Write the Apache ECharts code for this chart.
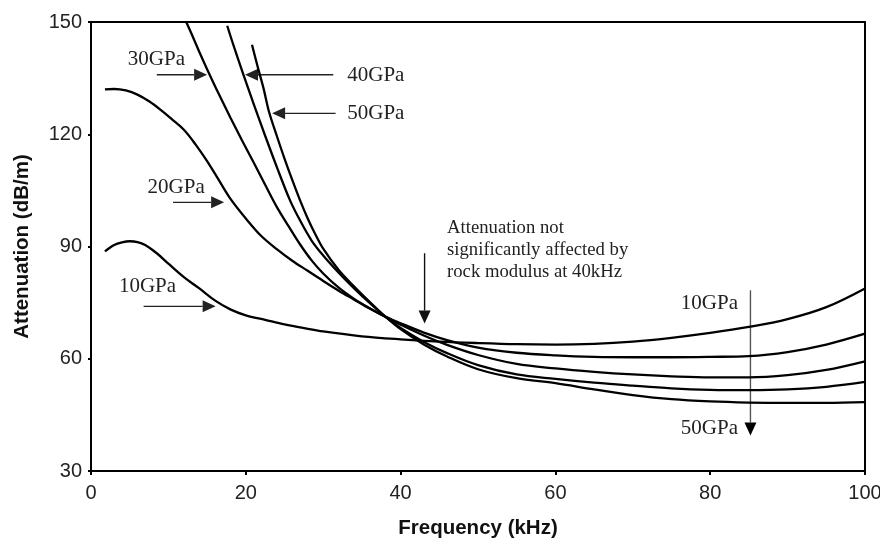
<!DOCTYPE html>
<html>
<head>
<meta charset="utf-8">
<script src="https://cdn.jsdelivr.net/npm/echarts@6/dist/echarts.min.js"></script>
<style>
  html, body { margin: 0; padding: 0; background: #fff; }
  #chart { width: 880px; height: 539px; }
</style>
</head>
<body>
<div id="chart"></div>
<script>
// Attenuation (dB/m) against frequency (kHz) for five rock moduli
const freq10 = [1.8, 3, 4, 5, 6, 7, 8.5, 10, 12, 14, 16, 18, 20, 22.5, 25, 27.5, 30, 35, 40, 45, 50, 55, 60, 65, 70, 75, 80, 85, 90, 95, 100];
const att10  = [88.7, 90.4, 91.1, 91.4, 91.2, 90.4, 88.2, 85.4, 81.8, 78.8, 75.6, 73.2, 71.6, 70.4, 69.2, 68.2, 67.3, 66.0, 65.2, 64.6, 64.2, 63.9, 63.8, 64.0, 64.6, 65.6, 66.9, 68.5, 70.6, 73.8, 78.8];

const freq20 = [1.8, 3, 4.5, 6, 7.5, 9, 10.5, 12, 13.5, 15, 16.5, 18, 20, 22, 24, 26, 28, 30, 32, 34, 36, 38, 40, 43, 46, 50, 55, 60, 65, 70, 75, 80, 85, 90, 95, 100];
const att20  = [132.0, 132.1, 131.7, 130.6, 128.8, 126.5, 123.9, 121.2, 117.3, 112.8, 107.8, 102.8, 97.5, 92.8, 89.3, 86.2, 83.5, 80.8, 78.2, 75.8, 73.4, 71.3, 69.5, 67.0, 65.0, 63.0, 61.6, 60.9, 60.5, 60.4, 60.4, 60.5, 60.7, 61.8, 63.8, 66.7];

const freq30 = [12.3, 13, 14, 15, 16.5, 18, 19.5, 21, 22.5, 24, 25.5, 27, 28.5, 30, 32, 34, 36, 38, 40, 43, 46, 50, 55, 60, 65, 70, 75, 80, 85, 90, 95, 100];
const att30  = [150.0, 146.8, 142.0, 137.4, 130.8, 124.5, 118.4, 112.5, 106.5, 100.6, 95.5, 90.6, 86.3, 82.8, 79.0, 76.0, 73.5, 71.2, 69.1, 66.2, 63.7, 61.0, 58.6, 57.4, 56.5, 55.8, 55.3, 55.0, 55.0, 55.6, 57.0, 59.3];

const freq40 = [17.6, 18.5, 19.7, 21, 22.5, 24, 25.7, 27, 28.5, 30, 32, 34, 36, 38, 40, 43, 46, 50, 55, 60, 65, 70, 75, 80, 85, 90, 95, 100];
const att40  = [149.0, 143.2, 135.9, 128.2, 119.6, 111.3, 102.4, 97.0, 91.6, 87.6, 83.0, 78.8, 74.9, 71.3, 68.2, 64.5, 61.5, 58.3, 55.8, 54.6, 53.6, 52.8, 52.1, 51.7, 51.6, 51.8, 52.5, 53.8];

const freq50 = [20.8, 21.5, 22.3, 23, 24, 25, 26, 27, 28, 29, 30, 32, 34, 36, 38, 40, 43, 46, 50, 55, 60, 65, 70, 75, 80, 85, 90, 95, 100];
const att50  = [143.9, 138.3, 132.2, 126.0, 119.6, 113.5, 107.8, 102.4, 97.5, 93.2, 89.4, 83.7, 79.3, 75.2, 71.3, 67.9, 63.8, 60.6, 57.2, 54.8, 53.5, 51.8, 50.3, 49.2, 48.6, 48.3, 48.2, 48.2, 48.4];

// Axis ranges and tick spacing
const xMin = 0, xMax = 100, xStep = 20;
const yMin = 30, yMax = 150, yStep = 30;

// Modulus labels beside the curves (data units, text centre)
const labelText = ['30GPa', '40GPa', '50GPa', '20GPa', '10GPa', '10GPa', '50GPa'];
const labelX    = [8.45, 36.8, 36.8, 11.0, 7.3, 79.9, 79.9];
const labelY    = [139.9, 135.6, 125.6, 105.8, 79.2, 74.8, 41.3];

// Pointer arrows: start and tip (data units)
const arrowFromX = [8.5, 31.3, 31.6, 10.6, 6.8, 43.1, 85.2];
const arrowFromY = [135.9, 135.9, 125.6, 101.8, 74.0, 88.2, 78.3];
const arrowToX   = [15.0, 19.9, 23.4, 17.2, 16.1, 43.1, 85.2];
const arrowToY   = [135.9, 135.9, 125.6, 101.8, 74.0, 69.4, 39.5];
const arrowColor = ['#222', '#222', '#222', '#222', '#222', '#111', '#555'];

const noteText = 'Attenuation not\nsignificantly affected by\nrock modulus at 40kHz';
const noteX = 46.0, noteY = 97.8;

const chart = echarts.init(document.getElementById('chart'), null, { renderer: 'canvas' });

function pairs(xs, ys) { return xs.map((x, i) => [x, ys[i]]); }

const curves = [
  ['10GPa', freq10, att10],
  ['20GPa', freq20, att20],
  ['30GPa', freq30, att30],
  ['40GPa', freq40, att40],
  ['50GPa', freq50, att50]
];

const tickFont = { fontFamily: 'Liberation Sans, Arial, sans-serif', fontSize: 20, color: '#222' };
const titleFont = { fontFamily: 'Liberation Sans, Arial, sans-serif', fontSize: 20.5, fontWeight: 'bold', color: '#111' };

chart.setOption({
  animation: false,
  backgroundColor: '#fff',
  grid: {
    left: 91, right: 15, top: 22, bottom: 68,
    outerBoundsMode: 'none', containLabel: false,
    show: true, borderColor: '#000', borderWidth: 2, backgroundColor: 'transparent'
  },
  xAxis: {
    type: 'value', min: xMin, max: xMax, interval: xStep,
    name: 'Frequency (kHz)', nameLocation: 'middle', nameGap: 47,
    nameTextStyle: titleFont,
    axisLine: { show: true, lineStyle: { color: '#000', width: 2 } },
    axisTick: { show: true, length: 4, lineStyle: { color: '#000', width: 2 } },
    axisLabel: Object.assign({ margin: 12 }, tickFont),
    splitLine: { show: false }
  },
  yAxis: {
    type: 'value', min: yMin, max: yMax, interval: yStep,
    name: 'Attenuation (dB/m)', nameLocation: 'middle', nameGap: 58,
    nameTextStyle: titleFont,
    axisLine: { show: true, lineStyle: { color: '#000', width: 2 } },
    axisTick: { show: true, length: 3, lineStyle: { color: '#000', width: 2 } },
    axisLabel: Object.assign({ margin: 9 }, tickFont),
    splitLine: { show: false }
  },
  series: curves.map(([name, xs, ys]) => ({
    name, type: 'line', data: pairs(xs, ys), smooth: 0.35,
    showSymbol: false, clip: true,
    lineStyle: { color: '#000', width: 2.3 }
  }))
});

// Annotations placed through the chart's own coordinate conversion
function toPx(x, y) { return chart.convertToPixel({ gridIndex: 0 }, [x, y]); }

const graphics = [];
labelText.forEach((t, i) => {
  const p = toPx(labelX[i], labelY[i]);
  graphics.push({
    type: 'text', x: p[0], y: p[1], silent: true,
    style: { text: t, fill: '#222', font: '21px "Liberation Serif", "Times New Roman", serif', align: 'center', verticalAlign: 'middle' }
  });
});

arrowFromX.forEach((_, i) => {
  const a = toPx(arrowFromX[i], arrowFromY[i]);
  const b = toPx(arrowToX[i], arrowToY[i]);
  const dx = b[0] - a[0], dy = b[1] - a[1];
  const len = Math.hypot(dx, dy);
  const ux = dx / len, uy = dy / len;
  const headLen = 13, halfW = 6;
  const base = [b[0] - ux * headLen, b[1] - uy * headLen];
  graphics.push({
    type: 'line', silent: true,
    shape: { x1: a[0], y1: a[1], x2: base[0], y2: base[1] },
    style: { stroke: arrowColor[i], lineWidth: i >= 5 ? 1.4 : 1.3 }
  });
  graphics.push({
    type: 'polygon', silent: true,
    shape: { points: [b, [base[0] - uy * halfW, base[1] + ux * halfW], [base[0] + uy * halfW, base[1] - ux * halfW]] },
    style: { fill: i === 6 ? '#000' : arrowColor[i] }
  });
});

const np = toPx(noteX, noteY);
graphics.push({
  type: 'text', x: np[0], y: np[1], silent: true,
  style: { text: noteText, fill: '#222', font: '18.7px "Liberation Serif", "Times New Roman", serif', lineHeight: 22, align: 'left', verticalAlign: 'top' }
});

chart.setOption({ graphic: graphics });
</script>
</body>
</html>
